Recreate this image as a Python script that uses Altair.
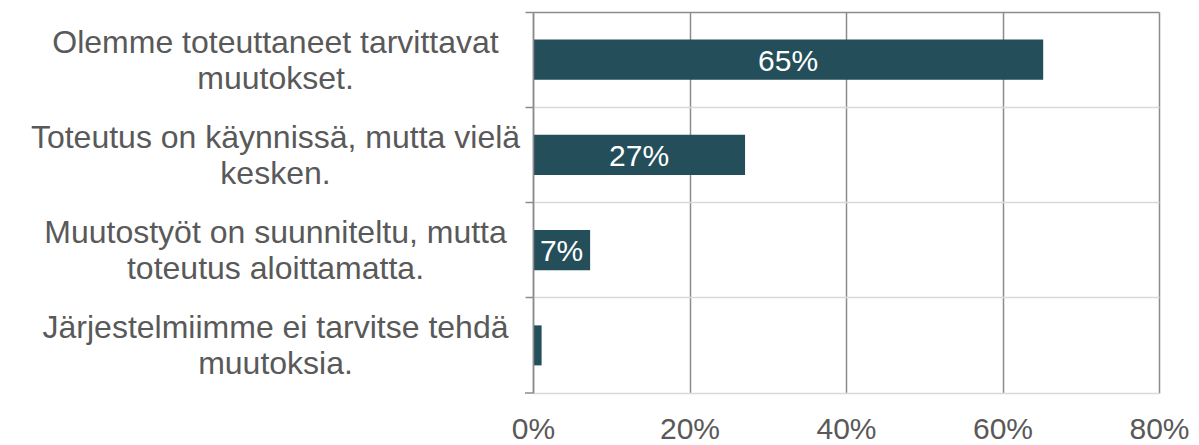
import altair as alt
import pandas as pd

categories = [
    "Olemme toteuttaneet tarvittavat\nmuutokset.",
    "Toteutus on käynnissä, mutta vielä\nkesken.",
    "Muutostyöt on suunniteltu, mutta\ntoteutus aloittamatta.",
    "Järjestelmiimme ei tarvitse tehdä\nmuutoksia.",
]
values = [65.2, 27.1, 7.3, 1.1]
x_ticks = [0, 20, 40, 60, 80]

df = pd.DataFrame({"category": categories, "value": values})

W, H = 626, 381
FONT = "Liberation Sans"
TXT = "#595959"
DARK = "#8c8c8c"
LIGHT = "#d9d9d9"
BAR = "#234E5A"

y_enc = alt.Y(
    "category:N",
    sort=categories,
    scale=alt.Scale(paddingInner=0, paddingOuter=0),
    axis=alt.Axis(
        title=None,
        labelExpr="split(datum.label, '\\n')",
        labelAlign="center",
        labelBaseline="middle",
        labelPadding=250,
        labelLimit=700,
        labelFont=FONT,
        labelFontSize=32,
        labelColor=TXT,
        labelLineHeight=36,
        labelOffset=-17,
        bandPosition=0,
        ticks=True,
        tickSize=8,
        tickColor=DARK,
        tickWidth=1.5,
        domainColor=DARK,
        domainWidth=1.5,
        grid=True,
        gridColor={"condition": {"test": "indexof(datum.value, 'Olemme') === 0", "value": DARK}, "value": LIGHT},
        gridWidth=1.5,
        zindex=1,
    ),
)

x_enc = alt.X(
    "value:Q",
    scale=alt.Scale(domain=[0, 80], nice=False),
    axis=alt.Axis(
        title=None,
        values=x_ticks,
        labelExpr="datum.value + '%'",
        grid=True,
        gridColor=DARK,
        gridWidth=1.5,
        ticks=False,
        tickSize=0,
        domain=True,
        domainColor=LIGHT,
        domainWidth=1.5,
        labelFont=FONT,
        labelFontSize=30,
        labelColor=TXT,
        labelPadding=21,
        labelFlush=False,
    ),
)

base = alt.Chart(df)

bars = base.mark_bar(color=BAR, height=alt.RelativeBandSize(0.42)).encode(x=x_enc, y=y_enc)

labels = (
    base.transform_filter("datum.value >= 5")
    .transform_calculate(mid="datum.value / 2", lbl="format(datum.value, '.0f') + '%'")
    .mark_text(color="white", font=FONT, fontSize=30, baseline="middle", align="center", dy=2)
    .encode(x="mid:Q", y=alt.Y("category:N", sort=categories), text="lbl:N")
)

bottom_tick = (
    alt.Chart(pd.DataFrame({"k": [0]}))
    .mark_rule(color=DARK, strokeWidth=1.5)
    .encode(x=alt.value(-8), x2=alt.value(0), y=alt.value(H))
)

chart = (
    alt.layer(bars, labels, bottom_tick)
    .properties(
        width=W,
        height=H,
        autosize=alt.AutoSizeParams(type="none"),
        padding={"left": 525, "top": 4, "right": 32, "bottom": 50},
    )
    .configure_view(stroke=None)
)

chart.save("out.html", embed_options={"renderer": "svg", "actions": False})
